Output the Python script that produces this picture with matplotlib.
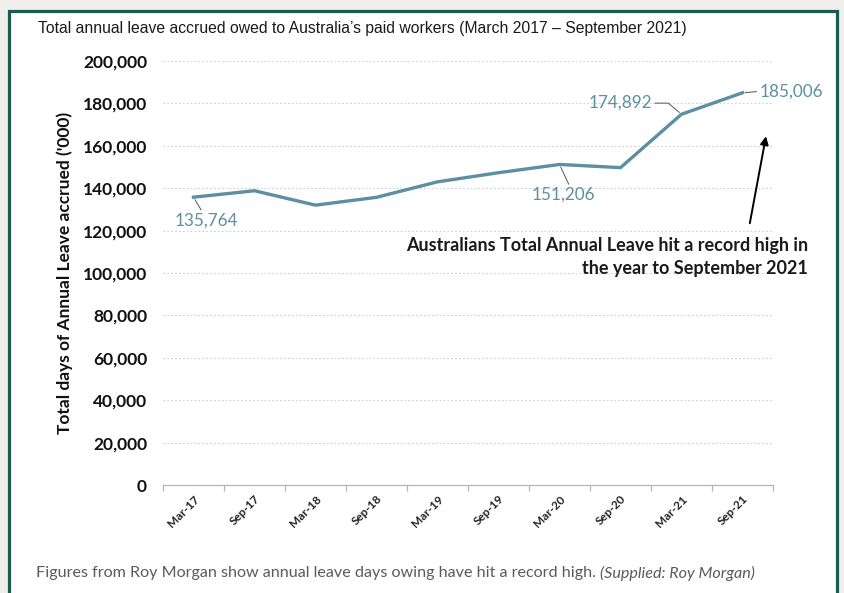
import numpy as np
import matplotlib
matplotlib.use("Agg")
import matplotlib.pyplot as plt
from matplotlib.patches import Rectangle
from matplotlib.ticker import FuncFormatter

# data
periods = ['Mar-17', 'Sep-17', 'Mar-18', 'Sep-18', 'Mar-19',
           'Sep-19', 'Mar-20', 'Sep-20', 'Mar-21', 'Sep-21']
leave = [135764, 138800, 132000, 135700, 143000,
         147300, 151206, 149700, 174892, 185006]

# labelled points: index, label offset in points, leader start on the label
labelled = [0, 6, 8, 9]
label_offsets = [(9, -17), (3, -22), (-44, 8), (35, 1)]
leader_from = [(0.45, 1.0), (0.6, 1.0), (1.0, 0.5), (0.0, 0.5)]
leader_style = ['arc3', 'arc3', 'angle,angleA=0,angleB=140,rad=0', 'arc3']

note = 'Australians Total Annual Leave hit a record high in\nthe year to September 2021'

line_col = '#5b8fa1'
body = ['Lato', 'DejaVu Sans']

fig = plt.figure(figsize=(8.45, 5.93), dpi=100)
fig.patch.set_facecolor('#efeeea')

# white card with teal border
card = Rectangle((9.5 / 845, -0.05), 828 / 845, 1 - 11 / 593 + 0.05,
                 transform=fig.transFigure, facecolor='white',
                 edgecolor='#1d5a55', linewidth=2.3, zorder=-5)
fig.patches.append(card)

ax = fig.add_axes([163 / 845, 1 - 485 / 593, 610 / 845, 424 / 593])
ax.set_facecolor('none')
ax.set_zorder(2)

x = np.arange(len(periods))
ax.plot(x, leave, color=line_col, linewidth=2.4, solid_joinstyle='round', zorder=3)

ax.set_xlim(-0.5, len(periods) - 0.5)
ax.set_ylim(0, 200000)
ax.set_yticks(np.arange(0, 200001, 20000))
ax.yaxis.set_major_formatter(FuncFormatter(lambda v, p: f'{int(v):,}'))
ax.grid(axis='y', linestyle=(0, (1.5, 2)), color='#cfcfcf', linewidth=0.8)
ax.set_axisbelow(True)

for s in ['top', 'right', 'left']:
    ax.spines[s].set_visible(False)
ax.spines['bottom'].set_color('#b5b5b5')
ax.spines['bottom'].set_linewidth(0.9)

ax.tick_params(axis='y', length=0, pad=11.5)
for t in ax.get_yticklabels():
    t.set_fontfamily(body)
    t.set_fontweight('bold')
    t.set_fontsize(12.5)
    t.set_color('#111111')

ax.set_xticks(x)
ax.set_xticklabels(periods, rotation=45, ha='right', va='top',
                   rotation_mode='anchor', fontsize=8.5, fontweight='bold',
                   family=body, color='#222222')
ax.tick_params(axis='x', which='major', length=0, pad=6)
ax.set_xticks(np.arange(-0.5, len(periods)), minor=True)
ax.tick_params(axis='x', which='minor', length=4, color='#b5b5b5', width=0.9)

ax.set_ylabel("Total days of Annual Leave accrued ('000)", family=body,
              fontsize=12.5, fontweight='bold', color='#111111', labelpad=7)

for i, off, rp, cs in zip(labelled, label_offsets, leader_from, leader_style):
    ax.annotate(f'{leave[i]:,}', xy=(x[i], leave[i]), xytext=off,
                textcoords='offset points', ha='center', va='center',
                fontsize=12.3, color=line_col, family=body,
                arrowprops=dict(arrowstyle='-', color='#555555', lw=0.7,
                                shrinkA=0, shrinkB=2, relpos=rp,
                                connectionstyle=cs))

# record high note with arrow
ax.annotate('', xy=(9.385, 164500), xytext=(9.12, 123500),
            arrowprops=dict(arrowstyle='-|>', color='black', lw=1.4,
                            mutation_scale=12, shrinkA=0, shrinkB=0),
            annotation_clip=False)
ax.text(10.07, 107500, note, ha='right', va='center', multialignment='right',
        fontsize=13, fontweight='bold', family=body, color='#1a1a1a',
        linespacing=1.4)

fig.text(38 / 845, 1 - 28 / 593,
         'Total annual leave accrued owed to Australia\u2019s paid workers (March 2017 \u2013 September 2021)',
         family=['Liberation Sans Narrow', 'Liberation Sans'], fontsize=11.3,
         color='#1a1a1a', va='center', ha='left')

cap1 = fig.text(36 / 845, 1 - 573 / 593,
                'Figures from Roy Morgan show annual leave days owing have hit a record high. ',
                family=body, fontsize=11.6, color='#5a5a5a', va='center', ha='left')
fig.canvas.draw()
bb = cap1.get_window_extent()
fig.text(bb.x1 / fig.bbox.width, 1 - 573 / 593, '(Supplied: Roy Morgan)',
         family=body, fontsize=11.6, color='#5a5a5a', style='italic',
         va='center', ha='left')

fig.savefig('out.png', dpi=100, facecolor=fig.get_facecolor())
